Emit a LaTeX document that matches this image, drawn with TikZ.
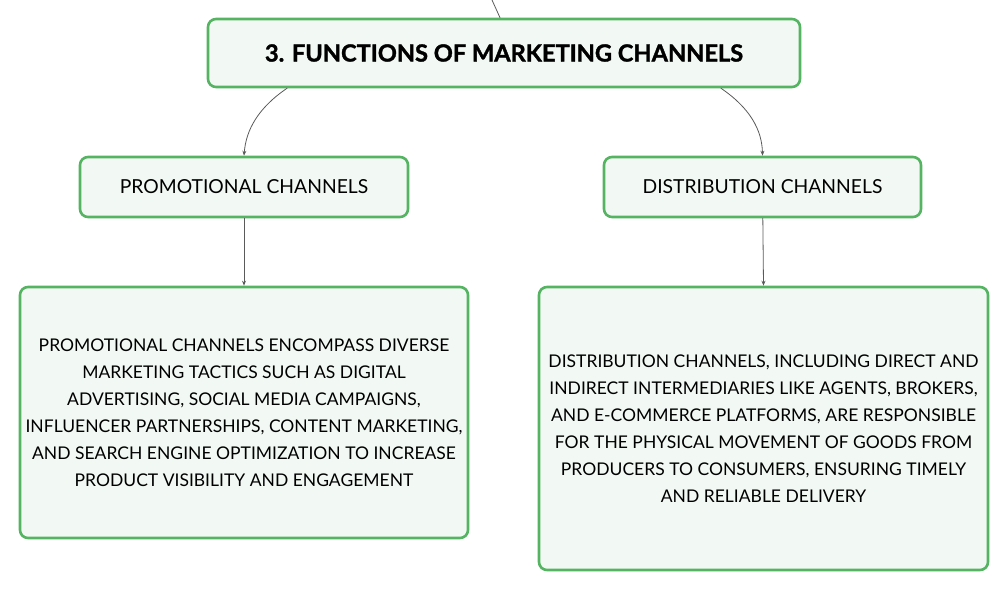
\documentclass[tikz,border=0pt]{standalone}
\usepackage{fontspec}
\setmainfont{Lato}
\newfontfamily\heavyfont{Lato}[UprightFont=*-Bold,UprightFeatures={FakeBold=1.5}]
\usetikzlibrary{arrows.meta}
\definecolor{boxgreen}{HTML}{55B461}
\definecolor{boxfill}{HTML}{F2F9F4}
\definecolor{linegray}{HTML}{5A5A5A}
\tikzset{
  box/.style={draw=boxgreen,fill=boxfill,line width=2.6pt,rounded corners=8pt,
    align=center,inner sep=0pt,font=\fontsize{17.5}{27}\selectfont},
  headbox/.style={box,minimum height=60pt,font=\fontsize{19.3}{27}\selectfont},
  link/.style={draw=linegray,line width=0.8pt,-{Stealth[length=5pt,width=4pt]}}
}
\begin{document}
\begin{tikzpicture}[x=1pt,y=-1pt,line join=round,line cap=round]
	\useasboundingbox (0,0) rectangle (1008,591);
	\node[box,minimum width=592pt,minimum height=68pt,font=\fontsize{23.6}{27}\heavyfont] (title) at (504,53) {3. FUNCTIONS OF MARKETING CHANNELS};
	\node[headbox,minimum width=328pt] (promo) at (244,187) {PROMOTIONAL CHANNELS};
	\node[headbox,minimum width=317pt] (dist) at (762.5,187) {DISTRIBUTION CHANNELS};
	\node[box,minimum width=448pt,minimum height=251pt] (promotext) at (244,412.5) {PROMOTIONAL CHANNELS ENCOMPASS DIVERSE\\ MARKETING TACTICS SUCH AS DIGITAL\\ ADVERTISING, SOCIAL MEDIA CAMPAIGNS,\\ INFLUENCER PARTNERSHIPS, CONTENT MARKETING,\\ AND SEARCH ENGINE OPTIMIZATION TO INCREASE\\ PRODUCT VISIBILITY AND ENGAGEMENT};
	\node[box,minimum width=449pt,minimum height=283pt] (disttext) at (763.5,428.5) {DISTRIBUTION CHANNELS, INCLUDING DIRECT AND\\ INDIRECT INTERMEDIARIES LIKE AGENTS, BROKERS,\\ AND E-COMMERCE PLATFORMS, ARE RESPONSIBLE\\ FOR THE PHYSICAL MOVEMENT OF GOODS FROM\\ PRODUCERS TO CONSUMERS, ENSURING TIMELY\\ AND RELIABLE DELIVERY};
	\coordinate (up) at (492,0);
	
	% connectors
	\draw[draw=linegray,line width=0.8pt] (up) -- (title.north -| 500,0);
	\path[link] (title.south -| 287,0) .. controls (258,108) and (246,130) .. (promo.north);
	\path[link] (title.south -| 721,0) .. controls (750,108) and (762,130) .. (dist.north);
	\path[link] (promo) -- (promotext.north);
	\path[link] (dist) -- (disttext.north);
\end{tikzpicture}
\end{document}
